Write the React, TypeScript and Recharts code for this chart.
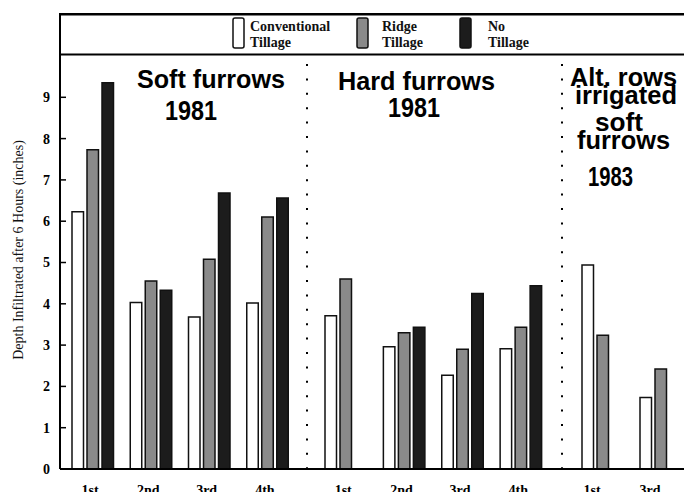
import React from 'react';
import { BarChart, Bar, XAxis, YAxis, Legend, Customized } from 'recharts';

// ---------- data ----------
const seriesNames = ['Conventional Tillage', 'Ridge Tillage', 'No Tillage'];

const softCategories = ['1st', '2nd', '3rd', '4th'];
const softConventional = [6.23, 4.03, 3.68, 4.02];
const softRidge = [7.73, 4.55, 5.08, 6.1];
const softNoTill = [9.35, 4.33, 6.68, 6.56];

const hardCategories = ['1st', '2nd', '3rd', '4th'];
const hardConventional = [3.71, 2.96, 2.27, 2.91];
const hardRidge = [4.6, 3.3, 2.9, 3.43];
const hardNoTill = [null, 3.43, 4.25, 4.44];

const altCategories = ['1st', '3rd'];
const altConventional = [4.94, 1.73];
const altRidge = [3.24, 2.42];

const yTicks = [0, 1, 2, 3, 4, 5, 6, 7, 8, 9];
const yDomain = [0, 10];
const yAxisTitle = 'Depth Infiltrated after 6 Hours (inches)';

const softTitleLines = ['Soft furrows', '1981'];
const hardTitleLines = ['Hard furrows', '1981'];
const altTitleLines = ['Alt. rows', 'irrigated', 'soft', 'furrows', '1983'];

// ---------- tables ----------
type Row = { cat: string; conv: number | null; ridge: number | null; no?: number | null };
const buildRows = (cats: string[], conv: (number | null)[], ridge: (number | null)[], no?: (number | null)[]): Row[] =>
  cats.map((c, i) => ({ cat: c, conv: conv[i], ridge: ridge[i], no: no ? no[i] : undefined }));

const softRows = buildRows(softCategories, softConventional, softRidge, softNoTill);
const hardRows = buildRows(hardCategories, hardConventional, hardRidge, hardNoTill);
const altRows = buildRows(altCategories, altConventional, altRidge);

// ---------- styles ----------
const SERIF = '"Liberation Serif", "DejaVu Serif", serif';
const SANS = '"Liberation Sans", Arial, sans-serif';
const FILLS = ['#ffffff', '#8a8a8a', '#1c1c1c'];
const BAR_STROKE = '#111';
const BAR_SIZE = 11.5;
const BAR_GAP = 3.5;
const H = 492;
const PLOT_TOP = 56;
const PLOT_BOTTOM = 469;

const xAxisProps = {
  dataKey: 'cat',
  axisLine: { stroke: '#000', strokeWidth: 2 },
  tickLine: false,
  tickSize: 0,
  tickMargin: 16,
  height: 23,
  interval: 0 as const,
  tick: { fill: '#000', fontSize: 14, fontWeight: 700, fontFamily: SERIF, dx: -3 },
};

const legendSlots = [
  { swatchX: 174, textX: 191 },
  { swatchX: 298, textX: 323 },
  { swatchX: 401, textX: 429 },
];

const LegendBox = (props: any) => {
  const payload = [...(props.payload || [])].sort(
    (a: any, b: any) => seriesNames.indexOf(a.value) - seriesNames.indexOf(b.value)
  );
  return (
    <svg width={625} height={43} style={{ display: 'block', overflow: 'visible' }}>
      <line x1={0} y1={1.25} x2={625} y2={1.25} stroke="#000" strokeWidth={2.5} />
      <line x1={0} y1={41.5} x2={625} y2={41.5} stroke="#000" strokeWidth={2} />
      <line x1={1} y1={0} x2={1} y2={43} stroke="#000" strokeWidth={2} />
      {payload.map((p: any, i: number) => {
        const s = legendSlots[i];
        if (!s) return null;
        const words = String(p.value).split(' ');
        return (
          <g key={i}>
            <rect x={s.swatchX} y={5} width={11} height={30} rx={2} fill={p.color} stroke={BAR_STROKE} strokeWidth={1.5} />
            <text x={s.textX} y={18} fontFamily={SERIF} fontWeight={700} fontSize={14} fill="#111">
              {words[0]}
            </text>
            <text x={s.textX} y={34} fontFamily={SERIF} fontWeight={700} fontSize={14} fill="#111">
              {words.slice(1).join(' ')}
            </text>
          </g>
        );
      })}
    </svg>
  );
};

type TitleItem = { text: string; x: number; y: number; size: number; len: number };

const Titles = ({ items, dx }: { items: TitleItem[]; dx: number }) => (
  <g>
    {items.map((t, i) => (
      <text
        key={i}
        x={t.x - dx}
        y={t.y}
        fontFamily={SANS}
        fontWeight={700}
        fontSize={t.size}
        fill="#000"
        textLength={t.len}
        lengthAdjust="spacingAndGlyphs"
      >
        {t.text}
      </text>
    ))}
  </g>
);

const Separator = () => (
  <line
    x1={1}
    y1={PLOT_TOP}
    x2={1}
    y2={PLOT_BOTTOM}
    stroke="#000"
    strokeWidth={2}
    strokeDasharray="2 12.4"
    strokeDashoffset={6.4}
  />
);

const softTitles: TitleItem[] = [
  { text: softTitleLines[0], x: 137, y: 88, size: 26, len: 148 },
  { text: softTitleLines[1], x: 165, y: 120, size: 27, len: 52 },
];
const hardTitles: TitleItem[] = [
  { text: hardTitleLines[0], x: 338, y: 90, size: 26, len: 157 },
  { text: hardTitleLines[1], x: 388, y: 117, size: 27, len: 52 },
];
const altTitles: TitleItem[] = [
  { text: altTitleLines[0], x: 570, y: 86, size: 25, len: 107 },
  { text: altTitleLines[1], x: 575, y: 104, size: 25, len: 102 },
  { text: altTitleLines[2], x: 595, y: 131, size: 25, len: 48 },
  { text: altTitleLines[3], x: 577, y: 149, size: 25, len: 93 },
  { text: altTitleLines[4], x: 588, y: 186, size: 28, len: 45 },
];

const YTitle = () => (
  <text
    x={23}
    y={250}
    transform="rotate(-90, 23, 250)"
    textAnchor="middle"
    fontFamily={SERIF}
    fontSize={14}
    fill="#111"
  >
    {yAxisTitle}
  </text>
);

const bars = (withNoTill: boolean) => {
  const list = [
    <Bar key="conv" dataKey="conv" name={seriesNames[0]} fill={FILLS[0]} stroke={BAR_STROKE} strokeWidth={1.5} barSize={BAR_SIZE} isAnimationActive={false} />,
    <Bar key="ridge" dataKey="ridge" name={seriesNames[1]} fill={FILLS[1]} stroke={BAR_STROKE} strokeWidth={1.5} barSize={BAR_SIZE} isAnimationActive={false} />,
  ];
  if (withNoTill) {
    list.push(
      <Bar key="no" dataKey="no" name={seriesNames[2]} fill={FILLS[2]} stroke={BAR_STROKE} strokeWidth={1.5} barSize={BAR_SIZE} isAnimationActive={false} />
    );
  }
  return list;
};

export default function App() {
  return (
    <div
      style={{
        position: 'absolute',
        left: 0,
        top: 0,
        width: 684,
        height: H,
        overflow: 'hidden',
        background: '#fff',
      }}
    >
      {/* Soft furrows 1981 */}
      <div style={{ position: 'absolute', left: 0, top: 0 }}>
        <BarChart width={307} height={H} data={softRows} margin={{ top: 13, right: 0, bottom: 0, left: 0 }} barGap={BAR_GAP}>
          <Legend
            verticalAlign="top"
            align="left"
            wrapperStyle={{ left: 59, top: 13, width: 625, height: 43 }}
            content={<LegendBox />}
          />
          <XAxis {...xAxisProps} padding={{ left: 4, right: 10 }} />
          <YAxis
            domain={yDomain}
            ticks={yTicks}
            width={60}
            interval={0}
            axisLine={{ stroke: '#000', strokeWidth: 2 }}
            tickLine={{ stroke: '#000', strokeWidth: 1.5 }}
            tickSize={-6}
            tickMargin={16}
            tick={{ fill: '#000', fontSize: 14, fontWeight: 700, fontFamily: SERIF }}
          />
          {bars(true)}
          <Customized component={<g><YTitle /><Titles items={softTitles} dx={0} /></g>} />
        </BarChart>
      </div>

      {/* Hard furrows 1981 */}
      <div style={{ position: 'absolute', left: 306, top: 0 }}>
        <BarChart width={256} height={H} data={hardRows} margin={{ top: PLOT_TOP, right: 0, bottom: 0, left: 0 }} barGap={BAR_GAP}>
          <XAxis {...xAxisProps} padding={{ left: 11, right: 11.5 }} />
          <YAxis hide domain={yDomain} />
          {bars(true)}
          <Customized component={<g><Separator /><Titles items={hardTitles} dx={306} /></g>} />
        </BarChart>
      </div>

      {/* Alternate rows 1983 */}
      <div style={{ position: 'absolute', left: 561, top: 0 }}>
        <BarChart width={123} height={H} data={altRows} margin={{ top: PLOT_TOP, right: 0, bottom: 0, left: 0 }} barGap={BAR_GAP}>
          <XAxis {...xAxisProps} padding={{ left: 5, right: 2 }} />
          <YAxis hide domain={yDomain} />
          {bars(false)}
          <Customized component={<g><Separator /><Titles items={altTitles} dx={561} /></g>} />
        </BarChart>
      </div>
    </div>
  );
}
